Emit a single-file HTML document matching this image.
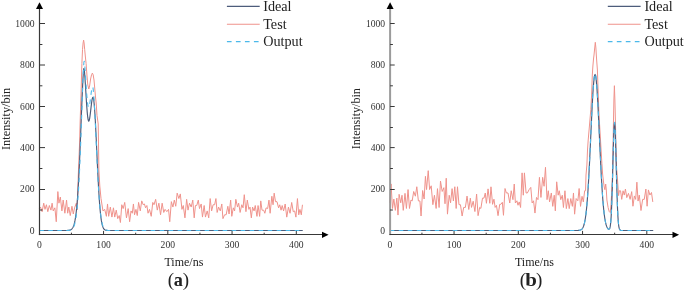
<!DOCTYPE html>
<html><head><meta charset="utf-8"><style>
html,body{margin:0;padding:0;background:#fff;}
body{width:685px;height:291px;overflow:hidden;}
svg{display:block;will-change:transform;}
text{font-family:"Liberation Serif",serif;fill:#222;}
.tk{font-size:9.6px;fill:#333;}
.lg{font-size:14.2px;}
.xl{font-size:12px;}
.pl{font-size:19px;}
</style></head><body>
<svg width="685" height="291" viewBox="0 0 685 291">
<path d="M39.30,208.59 L40.49,207.05 L42.14,211.68 L43.73,203.18 L45.00,209.37 L46.42,204.73 L47.81,211.68 L49.34,205.50 L50.95,210.14 L52.11,203.18 L53.23,210.91 L54.87,207.82 L56.25,221.73 L57.85,191.59 L58.95,203.18 L60.34,197.00 L61.91,210.91 L63.16,200.09 L64.87,213.23 L66.56,200.09 L67.68,213.23 L68.80,207.05 L70.25,215.55 L71.96,206.28 L73.31,214.00 L74.55,207.82 L76.33,203.18 L77.10,210.00 L78.30,175.00 L79.50,145.00 L80.20,120.00 L81.00,95.00 L81.50,76.00 L81.90,63.50 L82.50,49.70 L83.10,43.00 L83.60,40.10 L84.10,43.00 L84.70,49.70 L85.40,57.00 L86.10,63.50 L87.00,76.00 L87.80,85.00 L88.80,89.00 L89.60,86.00 L90.60,79.00 L91.60,74.50 L92.40,73.10 L93.20,75.00 L94.00,80.00 L94.80,89.00 L95.50,97.00 L96.20,103.00 L97.00,115.50 L97.80,121.00 L98.20,124.00 L98.40,135.00 L98.60,150.00 L98.90,170.00 L99.80,186.00 L101.00,198.50 L102.96,210.91 L104.68,209.37 L106.39,216.32 L107.53,203.96 L108.68,216.32 L110.33,207.05 L111.91,217.09 L113.44,207.82 L114.74,217.09 L116.24,210.14 L117.73,218.64 L119.21,215.55 L120.41,222.50 L121.79,204.73 L123.15,208.59 L124.72,202.41 L126.46,217.87 L128.18,208.59 L129.63,221.73 L131.02,210.91 L132.30,213.23 L133.42,203.96 L134.54,214.78 L135.94,209.37 L137.25,215.55 L138.59,202.41 L140.27,210.91 L141.72,200.87 L143.18,204.73 L144.43,203.96 L145.55,207.82 L146.86,205.50 L148.05,213.23 L149.48,209.37 L151.23,216.32 L152.77,202.41 L153.99,204.73 L155.67,199.32 L157.29,210.14 L158.86,203.18 L160.55,214.78 L162.15,203.18 L163.76,212.46 L165.09,209.37 L166.83,211.68 L168.55,209.37 L169.76,221.73 L171.35,201.64 L172.91,207.05 L174.31,200.09 L175.76,206.28 L177.18,193.14 L178.88,198.55 L180.30,193.91 L181.94,209.37 L183.27,205.50 L184.95,217.87 L186.63,199.32 L188.03,210.14 L189.50,203.18 L191.20,207.05 L192.77,200.09 L194.19,217.87 L195.43,205.50 L196.74,205.50 L198.30,200.09 L199.50,208.59 L201.19,203.96 L202.47,217.09 L204.16,205.50 L205.46,217.09 L207.19,210.91 L208.74,217.87 L210.17,198.55 L211.61,210.91 L213.13,204.73 L214.61,204.73 L215.92,198.55 L217.15,212.46 L218.58,207.05 L220.29,210.91 L221.80,203.96 L222.95,218.64 L224.58,214.78 L226.15,214.78 L227.84,206.28 L229.07,214.00 L230.65,200.09 L231.79,216.32 L233.31,207.82 L234.59,210.91 L235.84,199.32 L237.51,207.05 L238.67,203.18 L240.11,212.46 L241.77,204.73 L243.03,207.82 L244.27,194.68 L245.94,211.68 L247.31,200.09 L248.88,209.37 L250.00,207.05 L251.34,217.87 L252.55,207.05 L254.08,210.91 L255.24,205.50 L256.96,216.38 L258.07,205.54 L259.65,216.38 L260.76,200.90 L262.03,210.19 L263.66,210.19 L264.86,213.28 L266.08,207.86 L267.63,208.64 L268.98,200.12 L270.11,213.28 L271.85,196.25 L273.05,204.77 L274.17,193.16 L275.50,201.67 L277.00,201.67 L278.58,207.86 L279.75,204.77 L281.07,210.19 L282.19,205.54 L283.58,210.96 L285.18,203.99 L286.76,217.15 L288.45,207.09 L290.04,213.28 L291.70,202.45 L293.26,211.73 L294.67,210.96 L295.91,217.15 L297.44,198.58 L298.75,214.83 L299.91,209.41 L301.31,214.83 L302.44,204.77" fill="none" stroke="#ef928b" stroke-width="1.0" stroke-linejoin="round"/>
<path d="M39.30,230.50 L67.25,230.44 L68.21,230.37 L68.85,230.29 L69.18,230.24 L69.50,230.17 L69.82,230.09 L70.14,229.98 L70.46,229.85 L70.78,229.70 L71.10,229.50 L71.42,229.27 L71.75,228.99 L72.07,228.65 L72.39,228.24 L72.71,227.74 L73.03,227.16 L73.35,226.46 L73.67,225.64 L74.00,224.68 L74.32,223.55 L74.64,222.23 L74.96,220.70 L75.28,218.94 L75.60,216.91 L75.92,214.60 L76.24,211.96 L76.56,208.98 L76.89,205.63 L77.21,201.88 L77.53,197.72 L77.85,193.11 L78.17,188.05 L78.49,182.53 L78.81,176.55 L79.13,170.11 L79.46,163.24 L79.78,155.97 L80.10,148.33 L80.42,140.39 L80.74,132.22 L81.06,123.91 L81.38,115.56 L81.70,107.30 L82.03,99.28 L82.35,91.66 L82.67,84.62 L82.99,78.37 L83.31,73.18 L83.63,69.42 L83.95,68.24 L84.27,69.95 L84.60,73.13 L84.92,77.29 L85.24,82.10 L85.56,87.29 L85.88,92.63 L86.20,97.91 L86.52,102.93 L86.84,107.53 L87.17,111.60 L87.49,115.01 L87.81,117.70 L88.13,119.61 L88.45,120.72 L88.77,121.06 L89.09,120.64 L89.41,119.55 L89.74,117.86 L90.06,115.68 L90.38,113.15 L90.70,110.39 L91.02,107.56 L91.34,104.82 L91.66,102.30 L91.98,100.17 L92.31,98.54 L92.63,97.54 L92.95,97.27 L93.27,97.81 L93.59,99.21 L93.91,101.49 L94.23,104.61 L94.55,108.55 L94.88,113.23 L95.20,118.58 L95.52,124.49 L95.84,130.86 L96.16,137.57 L96.48,144.50 L96.80,151.53 L97.12,158.56 L97.45,165.48 L97.77,172.20 L98.09,178.64 L98.41,184.73 L98.73,190.43 L99.05,195.70 L99.37,200.52 L99.69,204.87 L100.02,208.77 L100.34,212.22 L100.66,215.24 L100.98,217.87 L101.30,220.13 L101.62,222.05 L101.94,223.67 L102.26,225.02 L102.59,226.14 L102.91,227.06 L103.23,227.81 L103.55,228.41 L103.87,228.89 L104.19,229.27 L104.51,229.57 L104.83,229.80 L105.16,229.98 L105.48,230.11 L105.80,230.22 L106.12,230.29 L106.44,230.35 L107.08,230.42 L108.05,230.47 L302.73,230.50" fill="none" stroke="#4d5c7b" stroke-width="1.15"/>
<path d="M39.30,230.50 L39.62,230.50 L39.94,230.50 L40.26,230.50 L40.58,230.50 L40.91,230.50 L41.23,230.50 L41.55,230.50 L41.87,230.50 L42.19,230.50 L42.51,230.50 L42.83,230.50 L43.15,230.50 L43.48,230.50 L43.80,230.50 L44.12,230.50 L44.44,230.50 L44.76,230.50 L45.08,230.50 L45.40,230.50 L45.72,230.50 L46.05,230.50 L46.37,230.50 L46.69,230.50 L47.01,230.50 L47.33,230.50 L47.65,230.50 L47.97,230.50 L48.29,230.50 L48.62,230.50 L48.94,230.50 L49.26,230.50 L49.58,230.50 L49.90,230.50 L50.22,230.50 L50.54,230.50 L50.86,230.50 L51.19,230.50 L51.51,230.50 L51.83,230.50 L52.15,230.50 L52.47,230.50 L52.79,230.50 L53.11,230.50 L53.43,230.50 L53.76,230.50 L54.08,230.50 L54.40,230.50 L54.72,230.50 L55.04,230.50 L55.36,230.50 L55.68,230.50 L56.00,230.50 L56.33,230.50 L56.65,230.50 L56.97,230.50 L57.29,230.50 L57.61,230.50 L57.93,230.50 L58.25,230.50 L58.57,230.50 L58.90,230.50 L59.22,230.50 L59.54,230.50 L59.86,230.50 L60.18,230.50 L60.50,230.50 L60.82,230.50 L61.14,230.50 L61.47,230.50 L61.79,230.50 L62.11,230.50 L62.43,230.50 L62.75,230.50 L63.07,230.50 L63.39,230.50 L63.71,230.50 L64.04,230.50 L64.36,230.50 L64.68,230.49 L65.00,230.49 L65.32,230.49 L65.64,230.49 L65.96,230.48 L66.28,230.48 L66.61,230.47 L66.93,230.47 L67.25,230.46 L67.57,230.44 L67.89,230.43 L68.21,230.41 L68.53,230.38 L68.85,230.35 L69.18,230.31 L69.50,230.26 L69.82,230.20 L70.14,230.12 L70.46,230.03 L70.78,229.91 L71.10,229.77 L71.42,229.60 L71.75,229.39 L72.07,229.13 L72.39,228.82 L72.71,228.45 L73.03,228.00 L73.35,227.47 L73.67,226.84 L74.00,226.09 L74.32,225.21 L74.64,224.17 L74.96,222.95 L75.28,221.53 L75.60,219.89 L75.92,218.00 L76.24,215.82 L76.56,213.33 L76.89,210.50 L77.21,207.29 L77.53,203.68 L77.85,199.64 L78.17,195.14 L78.49,190.16 L78.81,184.68 L79.13,178.69 L79.46,172.19 L79.78,165.18 L80.10,157.68 L80.42,149.73 L80.74,141.37 L81.06,132.67 L81.38,123.70 L81.70,114.59 L82.03,105.45 L82.35,96.43 L82.67,87.74 L82.99,79.58 L83.31,72.23 L83.63,66.05 L83.95,61.70 L84.27,61.50 L84.60,63.83 L84.92,67.45 L85.24,71.87 L85.56,76.74 L85.88,81.77 L86.20,86.74 L86.52,91.44 L86.84,95.71 L87.17,99.42 L87.49,102.49 L87.81,104.83 L88.13,106.43 L88.45,107.27 L88.77,107.37 L89.09,106.79 L89.41,105.59 L89.74,103.86 L90.06,101.73 L90.38,99.30 L90.70,96.73 L91.02,94.17 L91.34,91.76 L91.66,89.66 L91.98,88.04 L92.31,87.05 L92.63,86.87 L92.95,87.72 L93.27,89.93 L93.59,93.17 L93.91,97.29 L94.23,102.16 L94.55,107.68 L94.88,113.74 L95.20,120.22 L95.52,127.01 L95.84,134.01 L96.16,141.10 L96.48,148.18 L96.80,155.18 L97.12,162.01 L97.45,168.60 L97.77,174.90 L98.09,180.86 L98.41,186.44 L98.73,191.63 L99.05,196.41 L99.37,200.78 L99.69,204.75 L100.02,208.31 L100.34,211.49 L100.66,214.31 L100.98,216.79 L101.30,218.95 L101.62,220.83 L101.94,222.45 L102.26,223.84 L102.59,225.01 L102.91,226.01 L103.23,226.84 L103.55,227.54 L103.87,228.11 L104.19,228.59 L104.51,228.98 L104.83,229.29 L105.16,229.55 L105.48,229.76 L105.80,229.92 L106.12,230.05 L106.44,230.15 L106.76,230.23 L107.08,230.30 L107.40,230.35 L107.73,230.38 L108.05,230.41 L108.37,230.43 L108.69,230.45 L109.01,230.46 L109.33,230.47 L109.65,230.48 L109.97,230.49 L110.30,230.49 L110.62,230.49 L110.94,230.49 L111.26,230.50 L111.58,230.50 L111.90,230.50 L112.22,230.50 L112.54,230.50 L112.87,230.50 L113.19,230.50 L113.51,230.50 L113.83,230.50 L114.15,230.50 L114.47,230.50 L114.79,230.50 L115.11,230.50 L115.44,230.50 L115.76,230.50 L116.08,230.50 L116.40,230.50 L116.72,230.50 L117.04,230.50 L117.36,230.50 L117.68,230.50 L118.01,230.50 L118.33,230.50 L118.65,230.50 L118.97,230.50 L119.29,230.50 L119.61,230.50 L119.93,230.50 L120.25,230.50 L120.58,230.50 L120.90,230.50 L121.22,230.50 L121.54,230.50 L121.86,230.50 L122.18,230.50 L122.50,230.50 L122.82,230.50 L123.15,230.50 L123.47,230.50 L123.79,230.50 L124.11,230.50 L124.43,230.50 L124.75,230.50 L125.07,230.50 L125.39,230.50 L125.72,230.50 L126.04,230.50 L126.36,230.50 L126.68,230.50 L127.00,230.50 L127.32,230.50 L127.64,230.50 L127.96,230.50 L128.29,230.50 L128.61,230.50 L128.93,230.50 L129.25,230.50 L129.57,230.50 L129.89,230.50 L130.21,230.50 L130.53,230.50 L130.86,230.50 L131.18,230.50 L131.50,230.50 L131.82,230.50 L132.14,230.50 L132.46,230.50 L132.78,230.50 L133.10,230.50 L133.43,230.50 L133.75,230.50 L134.07,230.50 L134.39,230.50 L134.71,230.50 L135.03,230.50 L135.35,230.50 L135.68,230.50 L136.00,230.50 L136.32,230.50 L136.64,230.50 L136.96,230.50 L137.28,230.50 L137.60,230.50 L137.92,230.50 L138.25,230.50 L138.57,230.50 L138.89,230.50 L139.21,230.50 L139.53,230.50 L139.85,230.50 L140.17,230.50 L140.49,230.50 L140.81,230.50 L141.14,230.50 L141.46,230.50 L141.78,230.50 L142.10,230.50 L142.42,230.50 L142.74,230.50 L143.06,230.50 L143.38,230.50 L143.71,230.50 L144.03,230.50 L144.35,230.50 L144.67,230.50 L144.99,230.50 L145.31,230.50 L145.63,230.50 L145.95,230.50 L146.28,230.50 L146.60,230.50 L146.92,230.50 L147.24,230.50 L147.56,230.50 L147.88,230.50 L148.20,230.50 L148.52,230.50 L148.85,230.50 L149.17,230.50 L149.49,230.50 L149.81,230.50 L150.13,230.50 L150.45,230.50 L150.77,230.50 L151.09,230.50 L151.42,230.50 L151.74,230.50 L152.06,230.50 L152.38,230.50 L152.70,230.50 L153.02,230.50 L153.34,230.50 L153.66,230.50 L153.99,230.50 L154.31,230.50 L154.63,230.50 L154.95,230.50 L155.27,230.50 L155.59,230.50 L155.91,230.50 L156.23,230.50 L156.56,230.50 L156.88,230.50 L157.20,230.50 L157.52,230.50 L157.84,230.50 L158.16,230.50 L158.48,230.50 L158.81,230.50 L159.13,230.50 L159.45,230.50 L159.77,230.50 L160.09,230.50 L160.41,230.50 L160.73,230.50 L161.05,230.50 L161.38,230.50 L161.70,230.50 L162.02,230.50 L162.34,230.50 L162.66,230.50 L162.98,230.50 L163.30,230.50 L163.62,230.50 L163.94,230.50 L164.27,230.50 L164.59,230.50 L164.91,230.50 L165.23,230.50 L165.55,230.50 L165.87,230.50 L166.19,230.50 L166.51,230.50 L166.84,230.50 L167.16,230.50 L167.48,230.50 L167.80,230.50 L168.12,230.50 L168.44,230.50 L168.76,230.50 L169.08,230.50 L169.41,230.50 L169.73,230.50 L170.05,230.50 L170.37,230.50 L170.69,230.50 L171.01,230.50 L171.33,230.50 L171.65,230.50 L171.98,230.50 L172.30,230.50 L172.62,230.50 L172.94,230.50 L173.26,230.50 L173.58,230.50 L173.90,230.50 L174.22,230.50 L174.55,230.50 L174.87,230.50 L175.19,230.50 L175.51,230.50 L175.83,230.50 L176.15,230.50 L176.47,230.50 L176.80,230.50 L177.12,230.50 L177.44,230.50 L177.76,230.50 L178.08,230.50 L178.40,230.50 L178.72,230.50 L179.04,230.50 L179.37,230.50 L179.69,230.50 L180.01,230.50 L180.33,230.50 L180.65,230.50 L180.97,230.50 L181.29,230.50 L181.61,230.50 L181.94,230.50 L182.26,230.50 L182.58,230.50 L182.90,230.50 L183.22,230.50 L183.54,230.50 L183.86,230.50 L184.18,230.50 L184.50,230.50 L184.83,230.50 L185.15,230.50 L185.47,230.50 L185.79,230.50 L186.11,230.50 L186.43,230.50 L186.75,230.50 L187.07,230.50 L187.40,230.50 L187.72,230.50 L188.04,230.50 L188.36,230.50 L188.68,230.50 L189.00,230.50 L189.32,230.50 L189.64,230.50 L189.97,230.50 L190.29,230.50 L190.61,230.50 L190.93,230.50 L191.25,230.50 L191.57,230.50 L191.89,230.50 L192.21,230.50 L192.54,230.50 L192.86,230.50 L193.18,230.50 L193.50,230.50 L193.82,230.50 L194.14,230.50 L194.46,230.50 L194.78,230.50 L195.11,230.50 L195.43,230.50 L195.75,230.50 L196.07,230.50 L196.39,230.50 L196.71,230.50 L197.03,230.50 L197.35,230.50 L197.68,230.50 L198.00,230.50 L198.32,230.50 L198.64,230.50 L198.96,230.50 L199.28,230.50 L199.60,230.50 L199.93,230.50 L200.25,230.50 L200.57,230.50 L200.89,230.50 L201.21,230.50 L201.53,230.50 L201.85,230.50 L202.17,230.50 L202.50,230.50 L202.82,230.50 L203.14,230.50 L203.46,230.50 L203.78,230.50 L204.10,230.50 L204.42,230.50 L204.74,230.50 L205.06,230.50 L205.39,230.50 L205.71,230.50 L206.03,230.50 L206.35,230.50 L206.67,230.50 L206.99,230.50 L207.31,230.50 L207.63,230.50 L207.96,230.50 L208.28,230.50 L208.60,230.50 L208.92,230.50 L209.24,230.50 L209.56,230.50 L209.88,230.50 L210.20,230.50 L210.53,230.50 L210.85,230.50 L211.17,230.50 L211.49,230.50 L211.81,230.50 L212.13,230.50 L212.45,230.50 L212.77,230.50 L213.10,230.50 L213.42,230.50 L213.74,230.50 L214.06,230.50 L214.38,230.50 L214.70,230.50 L215.02,230.50 L215.34,230.50 L215.67,230.50 L215.99,230.50 L216.31,230.50 L216.63,230.50 L216.95,230.50 L217.27,230.50 L217.59,230.50 L217.91,230.50 L218.24,230.50 L218.56,230.50 L218.88,230.50 L219.20,230.50 L219.52,230.50 L219.84,230.50 L220.16,230.50 L220.49,230.50 L220.81,230.50 L221.13,230.50 L221.45,230.50 L221.77,230.50 L222.09,230.50 L222.41,230.50 L222.73,230.50 L223.06,230.50 L223.38,230.50 L223.70,230.50 L224.02,230.50 L224.34,230.50 L224.66,230.50 L224.98,230.50 L225.30,230.50 L225.62,230.50 L225.95,230.50 L226.27,230.50 L226.59,230.50 L226.91,230.50 L227.23,230.50 L227.55,230.50 L227.87,230.50 L228.19,230.50 L228.52,230.50 L228.84,230.50 L229.16,230.50 L229.48,230.50 L229.80,230.50 L230.12,230.50 L230.44,230.50 L230.76,230.50 L231.09,230.50 L231.41,230.50 L231.73,230.50 L232.05,230.50 L232.37,230.50 L232.69,230.50 L233.01,230.50 L233.33,230.50 L233.66,230.50 L233.98,230.50 L234.30,230.50 L234.62,230.50 L234.94,230.50 L235.26,230.50 L235.58,230.50 L235.90,230.50 L236.23,230.50 L236.55,230.50 L236.87,230.50 L237.19,230.50 L237.51,230.50 L237.83,230.50 L238.15,230.50 L238.47,230.50 L238.80,230.50 L239.12,230.50 L239.44,230.50 L239.76,230.50 L240.08,230.50 L240.40,230.50 L240.72,230.50 L241.04,230.50 L241.37,230.50 L241.69,230.50 L242.01,230.50 L242.33,230.50 L242.65,230.50 L242.97,230.50 L243.29,230.50 L243.62,230.50 L243.94,230.50 L244.26,230.50 L244.58,230.50 L244.90,230.50 L245.22,230.50 L245.54,230.50 L245.86,230.50 L246.19,230.50 L246.51,230.50 L246.83,230.50 L247.15,230.50 L247.47,230.50 L247.79,230.50 L248.11,230.50 L248.43,230.50 L248.75,230.50 L249.08,230.50 L249.40,230.50 L249.72,230.50 L250.04,230.50 L250.36,230.50 L250.68,230.50 L251.00,230.50 L251.32,230.50 L251.65,230.50 L251.97,230.50 L252.29,230.50 L252.61,230.50 L252.93,230.50 L253.25,230.50 L253.57,230.50 L253.89,230.50 L254.22,230.50 L254.54,230.50 L254.86,230.50 L255.18,230.50 L255.50,230.50 L255.82,230.50 L256.14,230.50 L256.46,230.50 L256.79,230.50 L257.11,230.50 L257.43,230.50 L257.75,230.50 L258.07,230.50 L258.39,230.50 L258.71,230.50 L259.03,230.50 L259.36,230.50 L259.68,230.50 L260.00,230.50 L260.32,230.50 L260.64,230.50 L260.96,230.50 L261.28,230.50 L261.60,230.50 L261.93,230.50 L262.25,230.50 L262.57,230.50 L262.89,230.50 L263.21,230.50 L263.53,230.50 L263.85,230.50 L264.18,230.50 L264.50,230.50 L264.82,230.50 L265.14,230.50 L265.46,230.50 L265.78,230.50 L266.10,230.50 L266.42,230.50 L266.75,230.50 L267.07,230.50 L267.39,230.50 L267.71,230.50 L268.03,230.50 L268.35,230.50 L268.67,230.50 L268.99,230.50 L269.31,230.50 L269.64,230.50 L269.96,230.50 L270.28,230.50 L270.60,230.50 L270.92,230.50 L271.24,230.50 L271.56,230.50 L271.88,230.50 L272.21,230.50 L272.53,230.50 L272.85,230.50 L273.17,230.50 L273.49,230.50 L273.81,230.50 L274.13,230.50 L274.45,230.50 L274.78,230.50 L275.10,230.50 L275.42,230.50 L275.74,230.50 L276.06,230.50 L276.38,230.50 L276.70,230.50 L277.02,230.50 L277.35,230.50 L277.67,230.50 L277.99,230.50 L278.31,230.50 L278.63,230.50 L278.95,230.50 L279.27,230.50 L279.59,230.50 L279.92,230.50 L280.24,230.50 L280.56,230.50 L280.88,230.50 L281.20,230.50 L281.52,230.50 L281.84,230.50 L282.16,230.50 L282.49,230.50 L282.81,230.50 L283.13,230.50 L283.45,230.50 L283.77,230.50 L284.09,230.50 L284.41,230.50 L284.73,230.50 L285.06,230.50 L285.38,230.50 L285.70,230.50 L286.02,230.50 L286.34,230.50 L286.66,230.50 L286.98,230.50 L287.31,230.50 L287.63,230.50 L287.95,230.50 L288.27,230.50 L288.59,230.50 L288.91,230.50 L289.23,230.50 L289.55,230.50 L289.88,230.50 L290.20,230.50 L290.52,230.50 L290.84,230.50 L291.16,230.50 L291.48,230.50 L291.80,230.50 L292.12,230.50 L292.44,230.50 L292.77,230.50 L293.09,230.50 L293.41,230.50 L293.73,230.50 L294.05,230.50 L294.37,230.50 L294.69,230.50 L295.01,230.50 L295.34,230.50 L295.66,230.50 L295.98,230.50 L296.30,230.50 L296.62,230.50 L296.94,230.50 L297.26,230.50 L297.58,230.50 L297.91,230.50 L298.23,230.50 L298.55,230.50 L298.87,230.50 L299.19,230.50 L299.51,230.50 L299.83,230.50 L300.15,230.50 L300.48,230.50 L300.80,230.50 L301.12,230.50 L301.44,230.50 L301.76,230.50 L302.08,230.50 L302.40,230.50 L302.73,230.50" fill="none" stroke="#4cb9ea" stroke-width="1.1" stroke-dasharray="4.5 4.5"/>
<path d="M389.80,202.81 L391.05,183.90 L392.51,208.48 L393.85,199.03 L395.34,210.37 L396.85,198.08 L397.99,215.09 L399.10,194.30 L400.74,202.81 L402.01,195.25 L403.26,210.37 L405.01,193.36 L406.42,208.48 L408.06,189.57 L409.47,208.48 L410.99,199.97 L412.18,200.92 L413.70,191.47 L415.36,196.19 L416.80,186.74 L418.38,200.92 L419.92,200.92 L421.06,216.04 L422.65,190.52 L424.14,199.03 L425.43,176.34 L426.55,189.57 L428.22,170.67 L429.62,189.57 L431.19,185.79 L432.86,204.70 L434.43,195.25 L436.13,208.48 L437.48,188.63 L439.10,207.53 L440.49,181.07 L442.20,191.47 L443.87,187.68 L445.03,203.75 L446.22,178.23 L447.46,214.15 L449.19,195.25 L450.57,202.81 L452.08,188.63 L453.38,200.92 L454.81,186.74 L456.16,208.48 L457.49,186.74 L458.97,204.70 L460.45,204.70 L462.13,216.04 L463.68,207.42 L465.38,207.42 L467.04,196.08 L468.78,209.48 L470.32,198.14 L471.52,207.42 L473.18,201.24 L474.91,211.55 L476.60,194.02 L478.07,215.67 L479.63,207.42 L480.87,208.45 L482.51,198.14 L483.98,198.14 L485.27,192.99 L486.41,203.30 L488.06,188.87 L489.81,203.30 L490.97,186.80 L492.59,204.33 L493.95,199.18 L495.15,207.42 L496.44,205.36 L498.04,215.67 L499.71,204.33 L500.84,204.33 L502.34,202.27 L503.47,215.31 L505.03,188.50 L506.35,192.97 L508.02,192.97 L509.76,203.02 L511.19,190.74 L512.94,199.67 L514.24,184.04 L515.39,203.02 L516.88,200.79 L518.00,205.26 L519.23,201.91 L520.59,207.49 L522.09,172.87 L523.29,195.21 L524.42,172.87 L526.08,192.97 L527.38,192.97 L529.11,189.62 L530.79,187.39 L532.14,203.02 L533.54,200.79 L534.97,213.07 L536.49,197.44 L537.98,199.67 L539.44,177.34 L540.95,197.44 L542.66,177.34 L544.09,186.27 L545.47,167.29 L547.04,199.67 L548.29,190.74 L549.59,201.91 L551.32,192.97 L552.76,206.37 L554.22,195.21 L555.32,210.84 L556.69,181.80 L558.17,195.21 L559.28,190.74 L560.78,199.67 L562.30,195.21 L563.43,207.49 L564.94,190.74 L566.34,208.61 L567.89,198.56 L569.22,208.61 L570.78,198.56 L572.35,206.37 L573.47,192.97 L574.61,214.19 L576.15,198.56 L577.87,200.79 L579.14,188.50 L580.53,206.37 L582.02,196.32 L583.33,201.91 L584.66,190.74 L585.57,190.74 L586.00,175.00 L586.90,165.00 L587.50,150.00 L588.20,140.00 L589.50,125.00 L590.80,109.70 L591.60,95.00 L592.30,75.00 L592.90,66.00 L593.50,59.00 L594.00,55.00 L594.60,49.00 L595.30,42.30 L595.90,48.00 L596.30,55.00 L596.80,62.00 L597.40,70.00 L598.10,90.00 L598.80,110.00 L599.60,125.00 L600.50,140.00 L601.20,152.00 L601.90,163.40 L602.60,174.00 L603.40,181.00 L604.20,187.00 L604.90,189.70 L605.70,184.00 L606.30,190.00 L606.90,200.00 L608.10,207.50 L609.20,211.50 L610.20,212.50 L611.00,205.00 L611.70,192.60 L612.30,180.00 L612.90,155.00 L613.40,125.00 L613.90,100.00 L614.40,85.70 L614.90,100.00 L615.50,125.00 L616.00,150.00 L616.60,168.00 L617.40,178.00 L618.60,195.60 L619.30,190.77 L620.55,190.77 L621.72,199.36 L623.07,190.77 L624.27,195.07 L625.42,189.05 L626.78,197.65 L628.48,193.35 L630.10,199.36 L631.69,191.63 L632.94,206.24 L634.39,195.93 L635.67,199.36 L636.88,182.18 L638.05,201.08 L639.29,195.07 L640.99,210.53 L642.63,199.36 L644.25,199.36 L645.87,189.05 L647.10,206.24 L648.40,189.91 L649.91,195.07 L651.48,192.49 L652.80,201.94" fill="none" stroke="#ef928b" stroke-width="1.0" stroke-linejoin="round"/>
<path d="M389.80,230.50 L578.05,230.44 L579.02,230.35 L579.34,230.31 L579.66,230.25 L579.98,230.17 L580.30,230.07 L580.62,229.95 L580.94,229.79 L581.26,229.59 L581.59,229.35 L581.91,229.05 L582.23,228.69 L582.55,228.24 L582.87,227.70 L583.19,227.05 L583.51,226.28 L583.84,225.35 L584.16,224.27 L584.48,222.99 L584.80,221.50 L585.12,219.77 L585.44,217.78 L585.76,215.51 L586.08,212.93 L586.40,210.03 L586.73,206.77 L587.05,203.15 L587.37,199.15 L587.69,194.77 L588.01,190.00 L588.33,184.84 L588.65,179.32 L588.98,173.45 L589.30,167.26 L589.62,160.79 L589.94,154.08 L590.26,147.19 L590.58,140.18 L590.90,133.13 L591.22,126.11 L591.54,119.20 L591.87,112.50 L592.19,106.09 L592.51,100.06 L592.83,94.49 L593.15,89.48 L593.47,85.09 L593.79,81.40 L594.12,78.47 L594.44,76.34 L594.76,75.04 L595.08,74.61 L595.40,75.04 L595.72,76.34 L596.04,78.47 L596.36,81.40 L596.68,85.09 L597.01,89.48 L597.33,94.49 L597.65,100.06 L597.97,106.09 L598.29,112.50 L598.61,119.20 L598.93,126.11 L599.25,133.13 L599.58,140.18 L599.90,147.19 L600.22,154.08 L600.54,160.79 L600.86,167.26 L601.18,173.45 L601.50,179.32 L601.83,184.84 L602.15,190.00 L602.47,194.77 L602.79,199.15 L603.11,203.15 L603.43,206.77 L603.75,210.03 L604.07,212.93 L604.39,215.51 L604.72,217.78 L605.04,219.77 L605.36,221.50 L605.68,222.99 L606.00,224.26 L606.32,225.35 L606.64,226.28 L606.97,227.05 L607.29,227.70 L607.61,228.22 L607.93,228.65 L608.25,228.97 L608.57,229.17 L608.89,229.25 L609.21,229.13 L609.53,228.75 L609.86,227.98 L610.18,226.66 L610.50,224.54 L610.82,221.39 L611.14,216.91 L611.46,210.85 L611.78,203.06 L612.11,193.53 L612.43,182.47 L612.75,170.34 L613.07,157.86 L613.39,145.98 L613.71,135.72 L614.03,128.07 L614.35,123.82 L614.67,123.43 L615.00,126.94 L615.32,133.97 L615.64,143.78 L615.96,155.43 L616.28,167.87 L616.60,180.15 L616.92,191.49 L617.25,201.37 L617.57,209.54 L617.89,215.97 L618.21,220.79 L618.53,224.25 L618.85,226.62 L619.17,228.18 L619.49,229.16 L619.82,229.76 L620.14,230.10 L620.46,230.29 L620.78,230.40 L621.10,230.45 L653.23,230.50" fill="none" stroke="#4d5c7b" stroke-width="1.15"/>
<path d="M389.80,230.50 L390.12,230.50 L390.44,230.50 L390.76,230.50 L391.09,230.50 L391.41,230.50 L391.73,230.50 L392.05,230.50 L392.37,230.50 L392.69,230.50 L393.01,230.50 L393.33,230.50 L393.66,230.50 L393.98,230.50 L394.30,230.50 L394.62,230.50 L394.94,230.50 L395.26,230.50 L395.58,230.50 L395.90,230.50 L396.23,230.50 L396.55,230.50 L396.87,230.50 L397.19,230.50 L397.51,230.50 L397.83,230.50 L398.15,230.50 L398.47,230.50 L398.80,230.50 L399.12,230.50 L399.44,230.50 L399.76,230.50 L400.08,230.50 L400.40,230.50 L400.72,230.50 L401.04,230.50 L401.37,230.50 L401.69,230.50 L402.01,230.50 L402.33,230.50 L402.65,230.50 L402.97,230.50 L403.29,230.50 L403.61,230.50 L403.94,230.50 L404.26,230.50 L404.58,230.50 L404.90,230.50 L405.22,230.50 L405.54,230.50 L405.86,230.50 L406.18,230.50 L406.50,230.50 L406.83,230.50 L407.15,230.50 L407.47,230.50 L407.79,230.50 L408.11,230.50 L408.43,230.50 L408.75,230.50 L409.07,230.50 L409.40,230.50 L409.72,230.50 L410.04,230.50 L410.36,230.50 L410.68,230.50 L411.00,230.50 L411.32,230.50 L411.64,230.50 L411.97,230.50 L412.29,230.50 L412.61,230.50 L412.93,230.50 L413.25,230.50 L413.57,230.50 L413.89,230.50 L414.22,230.50 L414.54,230.50 L414.86,230.50 L415.18,230.50 L415.50,230.50 L415.82,230.50 L416.14,230.50 L416.46,230.50 L416.79,230.50 L417.11,230.50 L417.43,230.50 L417.75,230.50 L418.07,230.50 L418.39,230.50 L418.71,230.50 L419.03,230.50 L419.36,230.50 L419.68,230.50 L420.00,230.50 L420.32,230.50 L420.64,230.50 L420.96,230.50 L421.28,230.50 L421.60,230.50 L421.93,230.50 L422.25,230.50 L422.57,230.50 L422.89,230.50 L423.21,230.50 L423.53,230.50 L423.85,230.50 L424.17,230.50 L424.50,230.50 L424.82,230.50 L425.14,230.50 L425.46,230.50 L425.78,230.50 L426.10,230.50 L426.42,230.50 L426.74,230.50 L427.06,230.50 L427.39,230.50 L427.71,230.50 L428.03,230.50 L428.35,230.50 L428.67,230.50 L428.99,230.50 L429.31,230.50 L429.63,230.50 L429.96,230.50 L430.28,230.50 L430.60,230.50 L430.92,230.50 L431.24,230.50 L431.56,230.50 L431.88,230.50 L432.20,230.50 L432.53,230.50 L432.85,230.50 L433.17,230.50 L433.49,230.50 L433.81,230.50 L434.13,230.50 L434.45,230.50 L434.77,230.50 L435.10,230.50 L435.42,230.50 L435.74,230.50 L436.06,230.50 L436.38,230.50 L436.70,230.50 L437.02,230.50 L437.35,230.50 L437.67,230.50 L437.99,230.50 L438.31,230.50 L438.63,230.50 L438.95,230.50 L439.27,230.50 L439.59,230.50 L439.92,230.50 L440.24,230.50 L440.56,230.50 L440.88,230.50 L441.20,230.50 L441.52,230.50 L441.84,230.50 L442.16,230.50 L442.49,230.50 L442.81,230.50 L443.13,230.50 L443.45,230.50 L443.77,230.50 L444.09,230.50 L444.41,230.50 L444.73,230.50 L445.06,230.50 L445.38,230.50 L445.70,230.50 L446.02,230.50 L446.34,230.50 L446.66,230.50 L446.98,230.50 L447.30,230.50 L447.62,230.50 L447.95,230.50 L448.27,230.50 L448.59,230.50 L448.91,230.50 L449.23,230.50 L449.55,230.50 L449.87,230.50 L450.19,230.50 L450.52,230.50 L450.84,230.50 L451.16,230.50 L451.48,230.50 L451.80,230.50 L452.12,230.50 L452.44,230.50 L452.76,230.50 L453.09,230.50 L453.41,230.50 L453.73,230.50 L454.05,230.50 L454.37,230.50 L454.69,230.50 L455.01,230.50 L455.34,230.50 L455.66,230.50 L455.98,230.50 L456.30,230.50 L456.62,230.50 L456.94,230.50 L457.26,230.50 L457.58,230.50 L457.90,230.50 L458.23,230.50 L458.55,230.50 L458.87,230.50 L459.19,230.50 L459.51,230.50 L459.83,230.50 L460.15,230.50 L460.48,230.50 L460.80,230.50 L461.12,230.50 L461.44,230.50 L461.76,230.50 L462.08,230.50 L462.40,230.50 L462.72,230.50 L463.05,230.50 L463.37,230.50 L463.69,230.50 L464.01,230.50 L464.33,230.50 L464.65,230.50 L464.97,230.50 L465.29,230.50 L465.62,230.50 L465.94,230.50 L466.26,230.50 L466.58,230.50 L466.90,230.50 L467.22,230.50 L467.54,230.50 L467.86,230.50 L468.19,230.50 L468.51,230.50 L468.83,230.50 L469.15,230.50 L469.47,230.50 L469.79,230.50 L470.11,230.50 L470.43,230.50 L470.75,230.50 L471.08,230.50 L471.40,230.50 L471.72,230.50 L472.04,230.50 L472.36,230.50 L472.68,230.50 L473.00,230.50 L473.32,230.50 L473.65,230.50 L473.97,230.50 L474.29,230.50 L474.61,230.50 L474.93,230.50 L475.25,230.50 L475.57,230.50 L475.89,230.50 L476.22,230.50 L476.54,230.50 L476.86,230.50 L477.18,230.50 L477.50,230.50 L477.82,230.50 L478.14,230.50 L478.47,230.50 L478.79,230.50 L479.11,230.50 L479.43,230.50 L479.75,230.50 L480.07,230.50 L480.39,230.50 L480.71,230.50 L481.04,230.50 L481.36,230.50 L481.68,230.50 L482.00,230.50 L482.32,230.50 L482.64,230.50 L482.96,230.50 L483.28,230.50 L483.61,230.50 L483.93,230.50 L484.25,230.50 L484.57,230.50 L484.89,230.50 L485.21,230.50 L485.53,230.50 L485.85,230.50 L486.18,230.50 L486.50,230.50 L486.82,230.50 L487.14,230.50 L487.46,230.50 L487.78,230.50 L488.10,230.50 L488.42,230.50 L488.75,230.50 L489.07,230.50 L489.39,230.50 L489.71,230.50 L490.03,230.50 L490.35,230.50 L490.67,230.50 L490.99,230.50 L491.31,230.50 L491.64,230.50 L491.96,230.50 L492.28,230.50 L492.60,230.50 L492.92,230.50 L493.24,230.50 L493.56,230.50 L493.88,230.50 L494.21,230.50 L494.53,230.50 L494.85,230.50 L495.17,230.50 L495.49,230.50 L495.81,230.50 L496.13,230.50 L496.45,230.50 L496.78,230.50 L497.10,230.50 L497.42,230.50 L497.74,230.50 L498.06,230.50 L498.38,230.50 L498.70,230.50 L499.02,230.50 L499.35,230.50 L499.67,230.50 L499.99,230.50 L500.31,230.50 L500.63,230.50 L500.95,230.50 L501.27,230.50 L501.60,230.50 L501.92,230.50 L502.24,230.50 L502.56,230.50 L502.88,230.50 L503.20,230.50 L503.52,230.50 L503.84,230.50 L504.17,230.50 L504.49,230.50 L504.81,230.50 L505.13,230.50 L505.45,230.50 L505.77,230.50 L506.09,230.50 L506.41,230.50 L506.74,230.50 L507.06,230.50 L507.38,230.50 L507.70,230.50 L508.02,230.50 L508.34,230.50 L508.66,230.50 L508.98,230.50 L509.31,230.50 L509.63,230.50 L509.95,230.50 L510.27,230.50 L510.59,230.50 L510.91,230.50 L511.23,230.50 L511.55,230.50 L511.88,230.50 L512.20,230.50 L512.52,230.50 L512.84,230.50 L513.16,230.50 L513.48,230.50 L513.80,230.50 L514.12,230.50 L514.45,230.50 L514.77,230.50 L515.09,230.50 L515.41,230.50 L515.73,230.50 L516.05,230.50 L516.37,230.50 L516.69,230.50 L517.01,230.50 L517.34,230.50 L517.66,230.50 L517.98,230.50 L518.30,230.50 L518.62,230.50 L518.94,230.50 L519.26,230.50 L519.59,230.50 L519.91,230.50 L520.23,230.50 L520.55,230.50 L520.87,230.50 L521.19,230.50 L521.51,230.50 L521.83,230.50 L522.15,230.50 L522.48,230.50 L522.80,230.50 L523.12,230.50 L523.44,230.50 L523.76,230.50 L524.08,230.50 L524.40,230.50 L524.73,230.50 L525.05,230.50 L525.37,230.50 L525.69,230.50 L526.01,230.50 L526.33,230.50 L526.65,230.50 L526.97,230.50 L527.30,230.50 L527.62,230.50 L527.94,230.50 L528.26,230.50 L528.58,230.50 L528.90,230.50 L529.22,230.50 L529.54,230.50 L529.87,230.50 L530.19,230.50 L530.51,230.50 L530.83,230.50 L531.15,230.50 L531.47,230.50 L531.79,230.50 L532.11,230.50 L532.43,230.50 L532.76,230.50 L533.08,230.50 L533.40,230.50 L533.72,230.50 L534.04,230.50 L534.36,230.50 L534.68,230.50 L535.00,230.50 L535.33,230.50 L535.65,230.50 L535.97,230.50 L536.29,230.50 L536.61,230.50 L536.93,230.50 L537.25,230.50 L537.58,230.50 L537.90,230.50 L538.22,230.50 L538.54,230.50 L538.86,230.50 L539.18,230.50 L539.50,230.50 L539.82,230.50 L540.14,230.50 L540.47,230.50 L540.79,230.50 L541.11,230.50 L541.43,230.50 L541.75,230.50 L542.07,230.50 L542.39,230.50 L542.72,230.50 L543.04,230.50 L543.36,230.50 L543.68,230.50 L544.00,230.50 L544.32,230.50 L544.64,230.50 L544.96,230.50 L545.28,230.50 L545.61,230.50 L545.93,230.50 L546.25,230.50 L546.57,230.50 L546.89,230.50 L547.21,230.50 L547.53,230.50 L547.86,230.50 L548.18,230.50 L548.50,230.50 L548.82,230.50 L549.14,230.50 L549.46,230.50 L549.78,230.50 L550.10,230.50 L550.42,230.50 L550.75,230.50 L551.07,230.50 L551.39,230.50 L551.71,230.50 L552.03,230.50 L552.35,230.50 L552.67,230.50 L553.00,230.50 L553.32,230.50 L553.64,230.50 L553.96,230.50 L554.28,230.50 L554.60,230.50 L554.92,230.50 L555.24,230.50 L555.57,230.50 L555.89,230.50 L556.21,230.50 L556.53,230.50 L556.85,230.50 L557.17,230.50 L557.49,230.50 L557.81,230.50 L558.13,230.50 L558.46,230.50 L558.78,230.50 L559.10,230.50 L559.42,230.50 L559.74,230.50 L560.06,230.50 L560.38,230.50 L560.71,230.50 L561.03,230.50 L561.35,230.50 L561.67,230.50 L561.99,230.50 L562.31,230.50 L562.63,230.50 L562.95,230.50 L563.27,230.50 L563.60,230.50 L563.92,230.50 L564.24,230.50 L564.56,230.50 L564.88,230.50 L565.20,230.50 L565.52,230.50 L565.85,230.50 L566.17,230.50 L566.49,230.50 L566.81,230.50 L567.13,230.50 L567.45,230.50 L567.77,230.50 L568.09,230.50 L568.41,230.50 L568.74,230.50 L569.06,230.50 L569.38,230.50 L569.70,230.50 L570.02,230.50 L570.34,230.50 L570.66,230.50 L570.99,230.50 L571.31,230.50 L571.63,230.50 L571.95,230.50 L572.27,230.50 L572.59,230.50 L572.91,230.50 L573.23,230.50 L573.56,230.50 L573.88,230.50 L574.20,230.50 L574.52,230.50 L574.84,230.50 L575.16,230.50 L575.48,230.50 L575.80,230.49 L576.12,230.49 L576.45,230.49 L576.77,230.48 L577.09,230.47 L577.41,230.47 L577.73,230.45 L578.05,230.44 L578.37,230.42 L578.69,230.39 L579.02,230.35 L579.34,230.30 L579.66,230.24 L579.98,230.17 L580.30,230.07 L580.62,229.94 L580.94,229.78 L581.26,229.59 L581.59,229.35 L581.91,229.05 L582.23,228.68 L582.55,228.23 L582.87,227.69 L583.19,227.03 L583.51,226.25 L583.84,225.32 L584.16,224.22 L584.48,222.94 L584.80,221.44 L585.12,219.70 L585.44,217.70 L585.76,215.41 L586.08,212.82 L586.40,209.89 L586.73,206.61 L587.05,202.97 L587.37,198.94 L587.69,194.53 L588.01,189.73 L588.33,184.54 L588.65,178.98 L588.98,173.07 L589.30,166.84 L589.62,160.32 L589.94,153.57 L590.26,146.63 L590.58,139.58 L590.90,132.48 L591.22,125.41 L591.54,118.46 L591.87,111.71 L592.19,105.26 L592.51,99.19 L592.83,93.59 L593.15,88.54 L593.47,84.13 L593.79,80.41 L594.12,77.46 L594.44,75.31 L594.76,74.01 L595.08,73.57 L595.40,74.01 L595.72,75.31 L596.04,77.46 L596.36,80.41 L596.68,84.13 L597.01,88.54 L597.33,93.59 L597.65,99.19 L597.97,105.26 L598.29,111.71 L598.61,118.46 L598.93,125.41 L599.25,132.48 L599.58,139.58 L599.90,146.63 L600.22,153.57 L600.54,160.32 L600.86,166.84 L601.18,173.07 L601.50,178.98 L601.83,184.54 L602.15,189.73 L602.47,194.53 L602.79,198.94 L603.11,202.97 L603.43,206.61 L603.75,209.89 L604.07,212.82 L604.39,215.41 L604.72,217.70 L605.04,219.70 L605.36,221.44 L605.68,222.94 L606.00,224.22 L606.32,225.32 L606.64,226.25 L606.97,227.03 L607.29,227.68 L607.61,228.21 L607.93,228.63 L608.25,228.96 L608.57,229.17 L608.89,229.24 L609.21,229.12 L609.53,228.74 L609.86,227.97 L610.18,226.63 L610.50,224.50 L610.82,221.32 L611.14,216.80 L611.46,210.70 L611.78,202.85 L612.11,193.25 L612.43,182.10 L612.75,169.87 L613.07,157.30 L613.39,145.33 L613.71,134.99 L614.03,127.28 L614.35,123.00 L614.67,122.60 L615.00,126.14 L615.32,133.22 L615.64,143.11 L615.96,154.85 L616.28,167.39 L616.60,179.76 L616.92,191.19 L617.25,201.15 L617.57,209.38 L617.89,215.86 L618.21,220.71 L618.53,224.20 L618.85,226.59 L619.17,228.16 L619.49,229.15 L619.82,229.75 L620.14,230.10 L620.46,230.29 L620.78,230.40 L621.10,230.45 L621.42,230.48 L621.74,230.49 L622.06,230.50 L622.38,230.50 L622.71,230.50 L623.03,230.50 L623.35,230.50 L623.67,230.50 L623.99,230.50 L624.31,230.50 L624.63,230.50 L624.95,230.50 L625.28,230.50 L625.60,230.50 L625.92,230.50 L626.24,230.50 L626.56,230.50 L626.88,230.50 L627.20,230.50 L627.52,230.50 L627.85,230.50 L628.17,230.50 L628.49,230.50 L628.81,230.50 L629.13,230.50 L629.45,230.50 L629.77,230.50 L630.10,230.50 L630.42,230.50 L630.74,230.50 L631.06,230.50 L631.38,230.50 L631.70,230.50 L632.02,230.50 L632.34,230.50 L632.66,230.50 L632.99,230.50 L633.31,230.50 L633.63,230.50 L633.95,230.50 L634.27,230.50 L634.59,230.50 L634.91,230.50 L635.24,230.50 L635.56,230.50 L635.88,230.50 L636.20,230.50 L636.52,230.50 L636.84,230.50 L637.16,230.50 L637.48,230.50 L637.81,230.50 L638.13,230.50 L638.45,230.50 L638.77,230.50 L639.09,230.50 L639.41,230.50 L639.73,230.50 L640.05,230.50 L640.38,230.50 L640.70,230.50 L641.02,230.50 L641.34,230.50 L641.66,230.50 L641.98,230.50 L642.30,230.50 L642.62,230.50 L642.94,230.50 L643.27,230.50 L643.59,230.50 L643.91,230.50 L644.23,230.50 L644.55,230.50 L644.87,230.50 L645.19,230.50 L645.51,230.50 L645.84,230.50 L646.16,230.50 L646.48,230.50 L646.80,230.50 L647.12,230.50 L647.44,230.50 L647.76,230.50 L648.09,230.50 L648.41,230.50 L648.73,230.50 L649.05,230.50 L649.37,230.50 L649.69,230.50 L650.01,230.50 L650.33,230.50 L650.65,230.50 L650.98,230.50 L651.30,230.50 L651.62,230.50 L651.94,230.50 L652.26,230.50 L652.58,230.50 L652.90,230.50 L653.23,230.50" fill="none" stroke="#4cb9ea" stroke-width="1.1" stroke-dasharray="4.5 4.5"/>
<line x1="39.50" y1="7" x2="39.50" y2="235.1" stroke="#383838" stroke-width="1.2"/>
<polygon points="39.50,2.3 36.00,9 43.00,9" fill="#000"/>
<line x1="38.90" y1="234.5" x2="323.30" y2="234.5" stroke="#383838" stroke-width="1.15"/>
<polygon points="328.60,234.8 322.00,231.7 322.00,237.9" fill="#000"/>
<line x1="39.50" y1="210.00" x2="42.40" y2="210.00" stroke="#383838" stroke-width="1"/>
<line x1="39.50" y1="189.50" x2="45.00" y2="189.50" stroke="#383838" stroke-width="1"/>
<line x1="39.50" y1="168.50" x2="42.40" y2="168.50" stroke="#383838" stroke-width="1"/>
<line x1="39.50" y1="147.60" x2="45.00" y2="147.60" stroke="#383838" stroke-width="1"/>
<line x1="39.50" y1="127.50" x2="42.40" y2="127.50" stroke="#383838" stroke-width="1"/>
<line x1="39.50" y1="106.50" x2="45.00" y2="106.50" stroke="#383838" stroke-width="1"/>
<line x1="39.50" y1="85.80" x2="42.40" y2="85.80" stroke="#383838" stroke-width="1"/>
<line x1="39.50" y1="65.00" x2="45.00" y2="65.00" stroke="#383838" stroke-width="1"/>
<line x1="39.50" y1="44.50" x2="42.40" y2="44.50" stroke="#383838" stroke-width="1"/>
<line x1="39.50" y1="23.50" x2="45.00" y2="23.50" stroke="#383838" stroke-width="1"/>
<line x1="71.42" y1="234.5" x2="71.42" y2="232.70" stroke="#383838" stroke-width="1"/>
<line x1="103.55" y1="234.5" x2="103.55" y2="230.90" stroke="#383838" stroke-width="1"/>
<line x1="135.68" y1="234.5" x2="135.68" y2="232.70" stroke="#383838" stroke-width="1"/>
<line x1="167.80" y1="234.5" x2="167.80" y2="230.90" stroke="#383838" stroke-width="1"/>
<line x1="199.93" y1="234.5" x2="199.93" y2="232.70" stroke="#383838" stroke-width="1"/>
<line x1="232.05" y1="234.5" x2="232.05" y2="230.90" stroke="#383838" stroke-width="1"/>
<line x1="264.18" y1="234.5" x2="264.18" y2="232.70" stroke="#383838" stroke-width="1"/>
<line x1="296.30" y1="234.5" x2="296.30" y2="230.90" stroke="#383838" stroke-width="1"/>
<text x="34.50" y="233.90" text-anchor="end" class="tk">0</text>
<text x="34.50" y="192.44" text-anchor="end" class="tk">200</text>
<text x="34.50" y="150.98" text-anchor="end" class="tk">400</text>
<text x="34.50" y="109.52" text-anchor="end" class="tk">600</text>
<text x="34.50" y="68.06" text-anchor="end" class="tk">800</text>
<text x="34.50" y="26.60" text-anchor="end" class="tk">1000</text>
<text x="39.30" y="247.6" text-anchor="middle" class="tk">0</text>
<text x="103.55" y="247.6" text-anchor="middle" class="tk">100</text>
<text x="167.80" y="247.6" text-anchor="middle" class="tk">200</text>
<text x="232.05" y="247.6" text-anchor="middle" class="tk">300</text>
<text x="296.30" y="247.6" text-anchor="middle" class="tk">400</text>
<line x1="390.10" y1="7" x2="390.10" y2="235.1" stroke="#9b9b9b" stroke-width="2.0"/>
<polygon points="390.10,2.3 386.60,9 393.60,9" fill="#000"/>
<line x1="389.50" y1="234.5" x2="673.80" y2="234.5" stroke="#383838" stroke-width="1.15"/>
<polygon points="679.10,234.8 672.50,231.7 672.50,237.9" fill="#000"/>
<line x1="390.10" y1="210.00" x2="392.90" y2="210.00" stroke="#383838" stroke-width="1"/>
<line x1="390.10" y1="189.50" x2="394.70" y2="189.50" stroke="#383838" stroke-width="1"/>
<line x1="390.10" y1="168.50" x2="392.90" y2="168.50" stroke="#383838" stroke-width="1"/>
<line x1="390.10" y1="147.60" x2="394.70" y2="147.60" stroke="#383838" stroke-width="1"/>
<line x1="390.10" y1="127.50" x2="392.90" y2="127.50" stroke="#383838" stroke-width="1"/>
<line x1="390.10" y1="106.50" x2="394.70" y2="106.50" stroke="#383838" stroke-width="1"/>
<line x1="390.10" y1="85.80" x2="392.90" y2="85.80" stroke="#383838" stroke-width="1"/>
<line x1="390.10" y1="65.00" x2="394.70" y2="65.00" stroke="#383838" stroke-width="1"/>
<line x1="390.10" y1="44.50" x2="392.90" y2="44.50" stroke="#383838" stroke-width="1"/>
<line x1="390.10" y1="23.50" x2="394.70" y2="23.50" stroke="#383838" stroke-width="1"/>
<line x1="421.93" y1="234.5" x2="421.93" y2="232.70" stroke="#383838" stroke-width="1"/>
<line x1="454.05" y1="234.5" x2="454.05" y2="230.90" stroke="#383838" stroke-width="1"/>
<line x1="486.18" y1="234.5" x2="486.18" y2="232.70" stroke="#383838" stroke-width="1"/>
<line x1="518.30" y1="234.5" x2="518.30" y2="230.90" stroke="#383838" stroke-width="1"/>
<line x1="550.42" y1="234.5" x2="550.42" y2="232.70" stroke="#383838" stroke-width="1"/>
<line x1="582.55" y1="234.5" x2="582.55" y2="230.90" stroke="#383838" stroke-width="1"/>
<line x1="614.67" y1="234.5" x2="614.67" y2="232.70" stroke="#383838" stroke-width="1"/>
<line x1="646.80" y1="234.5" x2="646.80" y2="230.90" stroke="#383838" stroke-width="1"/>
<text x="385.10" y="233.90" text-anchor="end" class="tk">0</text>
<text x="385.10" y="192.44" text-anchor="end" class="tk">200</text>
<text x="385.10" y="150.98" text-anchor="end" class="tk">400</text>
<text x="385.10" y="109.52" text-anchor="end" class="tk">600</text>
<text x="385.10" y="68.06" text-anchor="end" class="tk">800</text>
<text x="385.10" y="26.60" text-anchor="end" class="tk">1000</text>
<text x="389.80" y="247.6" text-anchor="middle" class="tk">0</text>
<text x="454.05" y="247.6" text-anchor="middle" class="tk">100</text>
<text x="518.30" y="247.6" text-anchor="middle" class="tk">200</text>
<text x="582.55" y="247.6" text-anchor="middle" class="tk">300</text>
<text x="646.80" y="247.6" text-anchor="middle" class="tk">400</text>
<line x1="226.90" y1="6.4" x2="259.70" y2="6.4" stroke="#4d5c7b" stroke-width="1.1"/>
<line x1="226.90" y1="24.3" x2="259.70" y2="24.3" stroke="#ef928b" stroke-width="1.1"/>
<line x1="226.90" y1="41.6" x2="259.70" y2="41.6" stroke="#4cb9ea" stroke-width="1.1" stroke-dasharray="4.7 4.3"/>
<text x="263.20" y="11.0" class="lg">Ideal</text>
<text x="263.20" y="28.7" class="lg">Test</text>
<text x="263.20" y="45.9" class="lg">Output</text>
<line x1="607.80" y1="6.4" x2="640.60" y2="6.4" stroke="#4d5c7b" stroke-width="1.1"/>
<line x1="607.80" y1="24.3" x2="640.60" y2="24.3" stroke="#ef928b" stroke-width="1.1"/>
<line x1="607.80" y1="41.6" x2="640.60" y2="41.6" stroke="#4cb9ea" stroke-width="1.1" stroke-dasharray="4.7 4.3"/>
<text x="644.40" y="11.0" class="lg">Ideal</text>
<text x="644.40" y="28.7" class="lg">Test</text>
<text x="644.40" y="45.9" class="lg">Output</text>
<text transform="translate(10.0,118.9) rotate(-90)" text-anchor="middle" style="font-size:12.3px">Intensity/bin</text>
<text transform="translate(359.9,118.7) rotate(-90)" text-anchor="middle" style="font-size:12.1px">Intensity/bin</text>
<text x="183.9" y="266.3" text-anchor="middle" class="xl">Time/ns</text>
<text x="534.4" y="266.3" text-anchor="middle" class="xl">Time/ns</text>
<text x="174.00" y="286" text-anchor="end" class="pl">(</text>
<text transform="translate(178.35,286) scale(0.96,1)" text-anchor="middle" class="pl" font-weight="bold">a</text>
<text x="182.70" y="286" class="pl">)</text>
<text x="526.05" y="286" text-anchor="end" class="pl">(</text>
<text transform="translate(531.05,286) scale(1.1,1)" text-anchor="middle" class="pl" font-weight="bold">b</text>
<text x="536.05" y="286" class="pl">)</text>
</svg>
</body></html>
